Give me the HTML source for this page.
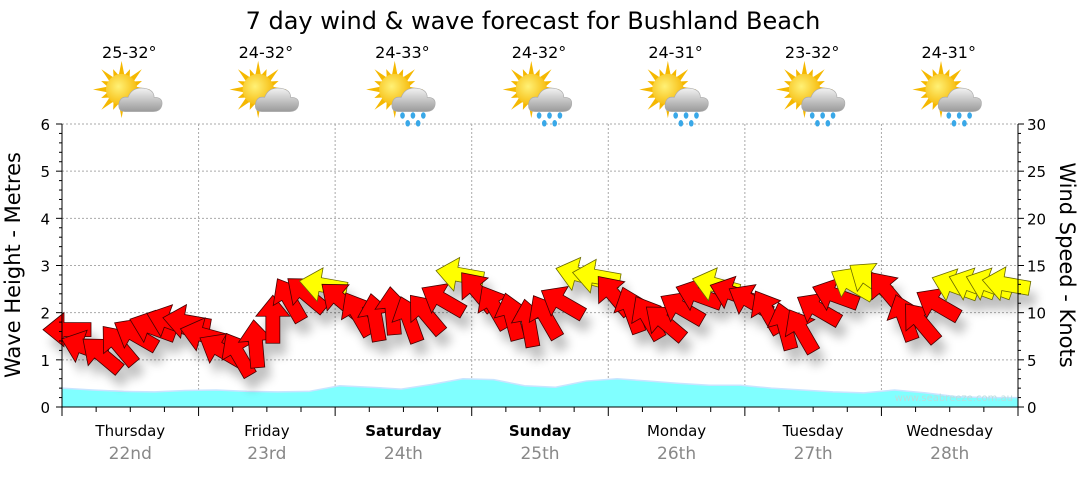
<!DOCTYPE html>
<html><head><meta charset="utf-8"><style>
body{margin:0;background:#fff;width:1080px;height:475px;overflow:hidden;font-family:"DejaVu Sans","Liberation Sans",sans-serif}
svg text{font-family:"DejaVu Sans","Liberation Sans",sans-serif}
</style></head><body>
<svg id="c" width="1080" height="475">
<defs>
<radialGradient id="sun" cx="0.4" cy="0.4" r="0.7"><stop offset="0" stop-color="#fff176"/><stop offset="1" stop-color="#f5b400"/></radialGradient>
<linearGradient id="cloud" x1="0" y1="0" x2="0" y2="1"><stop offset="0" stop-color="#f2f2f2"/><stop offset="1" stop-color="#9a9a9a"/></linearGradient>
<filter id="sh" x="-50%" y="-50%" width="200%" height="200%"><feGaussianBlur stdDeviation="5"/></filter>
</defs>
<text x="533" y="29" font-size="24" text-anchor="middle" fill="#000">7 day wind &amp; wave forecast for Bushland Beach</text>
<g id="grid"></g>
<g id="wave"></g>
<text x="1013" y="401" font-size="10" text-anchor="end" fill="#b8dede">www.seabreeze.com.au</text>
<g id="shadows" filter="url(#sh)" opacity="0.25"></g>
<g id="wind"></g>
<g id="axes"></g>
<g id="top"></g>
<text transform="translate(20,265) rotate(-90)" font-size="21" text-anchor="middle">Wave Height - Metres</text>
<text transform="translate(1060,265) rotate(90)" font-size="21" text-anchor="middle">Wind Speed - Knots</text>
</svg>
<script>
const days=["Thursday","Friday","Saturday","Sunday","Monday","Tuesday","Wednesday"];
const dates=["22nd","23rd","24th","25th","26th","27th","28th"];
const temps=["25-32°","24-32°","24-33°","24-32°","24-31°","23-32°","24-31°"];
const rain=[false,false,true,true,true,true,true];
const waveH=[0.4,0.36,0.33,0.32,0.35,0.36,0.33,0.32,0.33,0.45,0.42,0.38,0.48,0.6,0.58,0.45,0.42,0.55,0.6,0.55,0.5,0.46,0.46,0.4,0.36,0.32,0.3,0.36,0.3,0.22,0.2,0.2];
const windKn=[8.2,6.3,5.5,6.5,7.6,8.4,9.0,9.0, 7.6,6.0,5.5,6.6,9.2,11.3,11.9,12.9, 11.3,9.8,9.4,10.1,9.2,9.8,11.3,14.0, 12.2,10.5,9.5,8.8,9.5,11.0,14.0,13.8, 11.8,10.2,9.4,8.9,10.4,11.8,12.9,12.0, 11.2,10.0,8.5,8.0,10.3,11.8,13.0,13.5, 12.2,9.4,8.9,10.8,12.8,12.9,12.9,13.0];
const windDir=[270,290,310,320,300,290,290,280, 285,300,330,355,0,330,310,280, 310,330,350,355,340,320,300,280, 320,330,345,350,330,300,285,280, 320,340,330,310,300,290,285,290, 300,330,345,330,300,290,300,305, 320,340,320,300,290,290,290,280];
const X0=62,X1=1018,Y0=407,Y1=124,DW=(X1-X0)/7;
const xT=t=>X0+t*DW, yW=h=>Y0-h*(Y0-Y1)/6, yK=k=>Y0-k*(Y0-Y1)/30;
const NS="http://www.w3.org/2000/svg";
function mk(tag,at,par){const e=document.createElementNS(NS,tag);for(const k in at)e.setAttribute(k,at[k]);document.getElementById(par).appendChild(e);return e;}
for(let i=1;i<=6;i++){const g=mk('line',{x1:X0,x2:X1,y1:yW(i),y2:yW(i),stroke:'#aaa','stroke-dasharray':'2,2'},'grid');

}
for(let d=1;d<7;d++){const g=mk('line',{x1:xT(d),x2:xT(d),y1:Y1,y2:Y0,stroke:'#aaa','stroke-dasharray':'2,2'},'grid');

}
let p=`M${X0},${Y0}`;waveH.forEach((h,i)=>{p+=` L${xT(i*7/(waveH.length-1))},${yW(h)}`});p+=` L${X1},${Y0} Z`;
const wa=mk('path',{d:p,fill:'#80ffff',stroke:'none'},'wave');


let pl='';waveH.forEach((h,i)=>{pl+=(i?' L':'M')+xT(i*7/(waveH.length-1))+','+yW(h)});
const wl=mk('path',{d:pl,fill:'none',stroke:'#c8e4ff','stroke-width':1.5},'wave');


const A="M25,0 L4,-17 L4,-7 L-23,-7 L-23,7 L4,7 L4,17 Z";
windKn.forEach((k,i)=>{
 const x=xT(i*7/windKn.length)+6, y=yK(k), a=windDir[i]-90;
 const s=mk('path',{d:A,transform:`translate(${x+6},${y+12}) rotate(${a})`,fill:'#000'},'shadows');
 
 
 const yl=k>=12.5;
 const ar=mk('path',{d:A,transform:`translate(${x},${y}) rotate(${a})`,fill:yl?'#ffff00':'#ff0000',stroke:yl?'#6a6a00':'#400',"stroke-width":0.8},'wind');
 
 
});
const ax=[['line',{x1:X0,x2:X0,y1:Y1,y2:Y0+9}],['line',{x1:X1,x2:X1,y1:Y1,y2:Y0+9}],['line',{x1:X0,x2:X1,y1:Y0,y2:Y0}]];
ax.forEach(a=>{const e=mk(a[0],Object.assign(a[1],{stroke:'#000'}),'axes');

});
for(let i=0;i<=30;i++){const y=yW(i*0.2),L=i%5?3:6;const e=mk('line',{x1:X0-L,x2:X0,y1:y,y2:y,stroke:'#000'},'axes');


if(i%5==0){const t=mk('text',{x:X0-12,y:y+6,'font-size':15,'text-anchor':'end'},'axes');t.textContent=i/5;

}}
for(let k=0;k<=30;k++){const y=yK(k),L=k%5?3:6;const e=mk('line',{x1:X1,x2:X1+L,y1:y,y2:y,stroke:'#000'},'axes');


if(k%5==0){const t=mk('text',{x:X1+9,y:y+6,'font-size':15},'axes');t.textContent=k;

}}
for(let q=0;q<=28;q++){const x=xT(q/4),L=q%4?5:9;const e=mk('line',{x1:x,x2:x,y1:Y0,y2:Y0+L,stroke:'#000'},'axes');

}
days.forEach((d,i)=>{const cx=xT(i+0.5);
 const t=mk('text',{x:cx,y:436,'font-size':15,'text-anchor':'middle','font-weight':(i==2||i==3)?'bold':'normal'},'axes');t.textContent=d;
 
 
 const t2=mk('text',{x:cx,y:459,'font-size':17,'text-anchor':'middle',fill:'#888'},'axes');t2.textContent=dates[i];
 
 
 const t3=mk('text',{x:cx-1,y:58,'font-size':16,'text-anchor':'middle'},'top');t3.textContent=temps[i];
 
 
 const g=mk('g',{transform:`translate(${cx+3},96) scale(1.3)`},'top');
 
 
 let rays='';for(let r=0;r<16;r++){const an=r*Math.PI/8,l=r%2?17:22;rays+=`<polygon points="${-9+Math.cos(an-0.2)*11},${-5+Math.sin(an-0.2)*11} ${-9+Math.cos(an)*l},${-5+Math.sin(an)*l} ${-9+Math.cos(an+0.2)*11},${-5+Math.sin(an+0.2)*11}" fill="#f5b800"/>`;}
 g.innerHTML=rays+`<circle cx="-9" cy="-5" r="12" fill="url(#sun)"/>
 <path d="M-6,12 Q-12,12 -11,6 Q-10,0 -4,1 Q-1,-7 8,-6 Q16,-5 16,1 Q23,1 22,7 Q21,12 15,12 Z" fill="url(#cloud)" stroke="#aaa" stroke-width="0.5"/>`+
 (rain[i]?`<ellipse cx="-3" cy="15" rx="1.8" ry="2.5" fill="#39a8e8"/><ellipse cx="5" cy="15" rx="1.8" ry="2.5" fill="#39a8e8"/><ellipse cx="13" cy="15" rx="1.8" ry="2.5" fill="#39a8e8"/><ellipse cx="1" cy="21" rx="1.8" ry="2.5" fill="#39a8e8"/><ellipse cx="9" cy="21" rx="1.8" ry="2.5" fill="#39a8e8"/>`:'');
});
</script>
</body></html>
